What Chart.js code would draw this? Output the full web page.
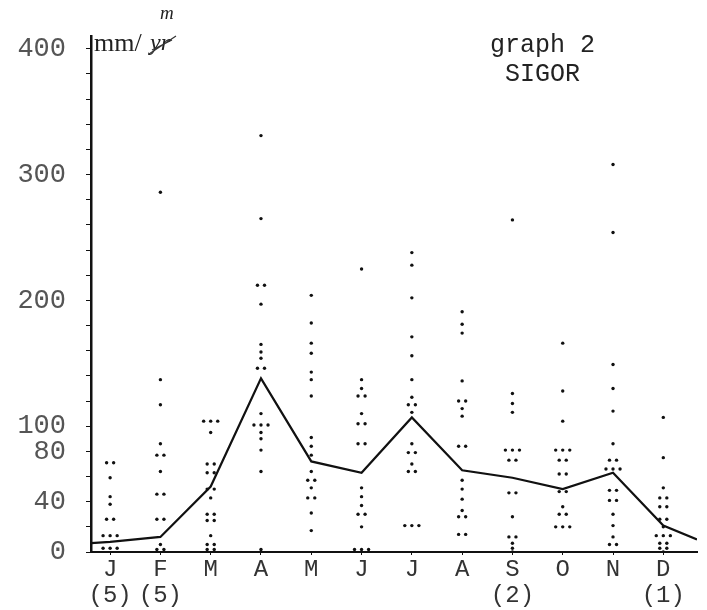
<!DOCTYPE html>
<html>
<head>
<meta charset="utf-8">
<script src="https://cdn.jsdelivr.net/npm/chart.js@4"></script>
<style>
  html, body { margin: 0; padding: 0; background: #fff; }
  #wrap { width: 707px; height: 610px; }
</style>
</head>
<body>
<div id="wrap"><canvas id="chart" width="707" height="610"></canvas></div>
<script>
// months along the bottom, with number of years of record under some of them
const months = ['J', 'F', 'M', 'A', 'M', 'J', 'J', 'A', 'S', 'O', 'N', 'D'];
const yearCounts = ['(5)', '(5)', '', '', '', '', '', '', '(2)', '', '', '(1)'];

// monthly mean rainfall (the joined line), mm
const meanRain = [8, 12, 52, 138, 72, 63, 107, 65, 59, 50, 63, 21];
const lineStart = 7;   // where the line leaves the y axis
const lineEnd = 10;    // where the line stops at the right

// single monthly observations (the dots), mm
const janObs = [71, 71, 59, 44, 38, 26, 26, 13, 13, 13, 3, 3, 3];
const febObs = [286, 137, 117, 86, 77, 77, 64, 46, 46, 26, 26, 6, 2, 2];
const marObs = [104, 104, 104, 95, 70, 70, 63, 63, 50, 50, 43, 30, 30, 25, 25, 13, 6, 6, 2, 2];
const aprObs = [331, 265, 212, 212, 197, 165, 159, 154, 146, 146, 110, 101, 101, 101, 95, 90, 81, 64, 2];
const mayObs = [204, 182, 166, 158, 143, 137, 124, 91, 84, 77, 64, 57, 57, 51, 43, 43, 31, 17];
const junObs = [225, 137, 130, 124, 124, 110, 102, 102, 86, 86, 51, 44, 37, 30, 30, 20, 2, 2, 2];
const julObs = [238, 228, 202, 171, 156, 137, 123, 117, 117, 111, 86, 79, 79, 70, 64, 64, 21, 21, 21];
const augObs = [191, 181, 174, 136, 120, 120, 114, 108, 84, 84, 57, 50, 42, 33, 28, 28, 14, 14];
const sepObs = [264, 126, 118, 111, 81, 81, 81, 73, 73, 47, 47, 28, 12, 12, 7, 3, 0];
const octObs = [166, 128, 104, 81, 81, 81, 73, 73, 62, 62, 48, 48, 36, 30, 30, 20, 20, 20];
const novObs = [308, 254, 149, 130, 112, 86, 73, 73, 66, 66, 66, 49, 49, 41, 41, 30, 21, 12, 6, 6];
const decObs = [107, 75, 51, 43, 43, 36, 36, 26, 26, 20, 13, 13, 13, 7, 7, 3, 3, 0];

// y tick labels that were written on the axis
const yLabels = [0, 40, 80, 100, 200, 300, 400];

const xMin = -0.38, xMax = 11.67;
const allObs = [janObs, febObs, marObs, aprObs, mayObs, junObs, julObs, augObs, sepObs, octObs, novObs, decObs];

// put repeated values side by side, like ". ." on the sheet
const dotPoints = [];
allObs.forEach((vals, m) => {
  const counts = {};
  vals.forEach(v => counts[v] = (counts[v] || 0) + 1);
  const seen = {};
  vals.forEach(v => {
    const k = seen[v] || 0;
    seen[v] = k + 1;
    dotPoints.push({ x: m + (k - (counts[v] - 1) / 2) * 0.14, y: v });
  });
});

const linePoints = [{ x: xMin, y: lineStart }]
  .concat(meanRain.map((v, i) => ({ x: i, y: v })))
  .concat([{ x: xMax, y: lineEnd }]);

const notes = {
  id: 'notes',
  afterDraw(chart) {
    const ctx = chart.ctx;
    ctx.save();
    ctx.fillStyle = '#222';
    ctx.textBaseline = 'middle';
    ctx.font = '25px "Liberation Mono", monospace';
    ctx.fillText('graph 2', 490, 45);
    ctx.fillText('SIGOR', 505, 74);
    ctx.font = '26px "Liberation Serif", serif';
    ctx.fillText('mm/', 94, 44);
    ctx.font = 'italic 24px "Liberation Serif", serif';
    ctx.fillText('yr', 150, 44);
    // the crossed out "yr" with "m" written above
    ctx.strokeStyle = '#333';
    ctx.lineWidth = 1.2;
    ctx.beginPath();
    ctx.moveTo(149, 54); ctx.lineTo(176, 36);
    ctx.moveTo(152, 50); ctx.lineTo(172, 40);
    ctx.stroke();
    ctx.font = 'italic 19px "Liberation Serif", serif';
    ctx.fillText('m', 160, 14);
    ctx.restore();
  }
};

new Chart(document.getElementById('chart'), {
  type: 'scatter',
  data: {
    datasets: [
      {
        label: 'observations',
        data: dotPoints,
        pointRadius: 1.7,
        pointBackgroundColor: '#111',
        pointBorderWidth: 0,
        showLine: false
      },
      {
        label: 'mean',
        data: linePoints,
        showLine: true,
        borderColor: '#111',
        borderWidth: 2.2,
        pointRadius: 0,
        tension: 0
      }
    ]
  },
  options: {
    responsive: false,
    animation: false,
    layout: { padding: { top: 29, right: 10, left: 0, bottom: 0 } },
    plugins: { legend: { display: false }, tooltip: { enabled: false } },
    scales: {
      x: {
        type: 'linear',
        min: xMin,
        max: xMax,
        afterBuildTicks: s => { s.ticks = months.map((m, i) => ({ value: i })); },
        afterFit: s => { s.height = 58; },
        border: { display: true, color: '#111', width: 2 },
        grid: { drawOnChartArea: false, drawTicks: true, tickLength: 3, color: '#111' },
        ticks: {
          autoSkip: false,
          maxRotation: 0,
          padding: 1,
          color: '#333',
          font: { family: '"Liberation Mono", monospace', size: 24, lineHeight: 1.1 },
          callback: (v, i) => yearCounts[i] ? [months[i], yearCounts[i]] : months[i]
        }
      },
      y: {
        min: 0,
        max: 410,
        afterBuildTicks: s => {
          const t = [];
          for (let v = 0; v <= 400; v += 20) t.push({ value: v });
          s.ticks = t;
        },
        afterFit: s => { s.width = 91; },
        border: { display: true, color: '#111', width: 2.5 },
        grid: { drawOnChartArea: false, drawTicks: true, tickLength: 5, color: '#111' },
        ticks: {
          autoSkip: false,
          padding: 20,
          color: '#555',
          font: { family: '"Liberation Mono", monospace', size: 27 },
          callback: v => yLabels.includes(v) ? String(v) : ''
        }
      }
    }
  },
  plugins: [notes]
});
</script>
</body>
</html>
